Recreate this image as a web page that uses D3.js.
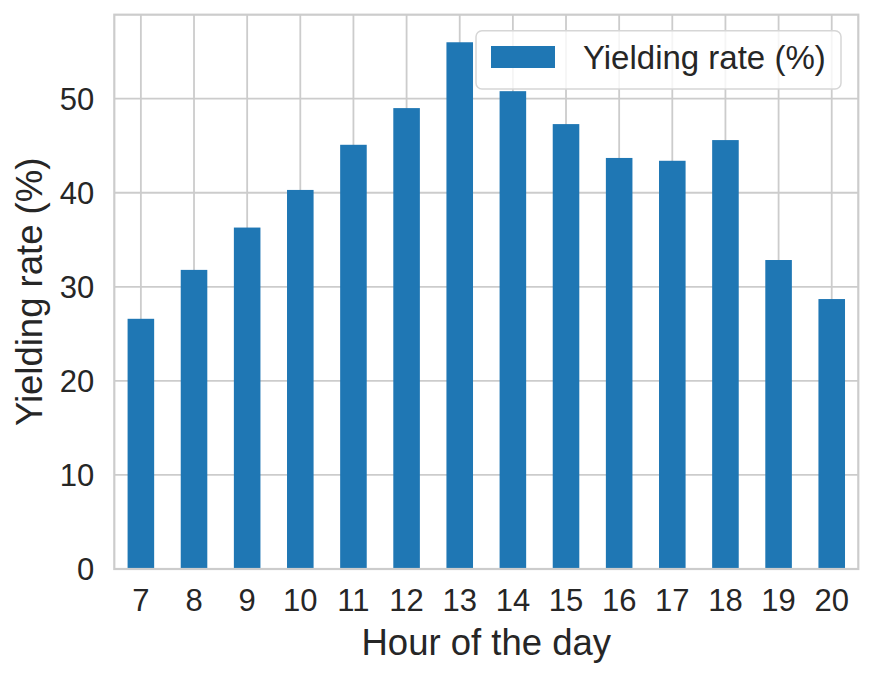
<!DOCTYPE html>
<html>
<head>
<meta charset="utf-8">
<script src="https://cdn.jsdelivr.net/npm/d3@7"></script>
<style>
  html, body { margin: 0; padding: 0; background: #ffffff; }
  svg { display: block; }
  text { font-family: "Liberation Sans", Arial, sans-serif; fill: #262626; }
</style>
</head>
<body>
<svg id="chart" width="873" height="677"></svg>
<script>
const hours = ["7","8","9","10","11","12","13","14","15","16","17","18","19","20"];
const yieldingRate = [26.6, 31.8, 36.3, 40.3, 45.1, 49.0, 56.0, 50.8, 47.3, 43.7, 43.4, 45.6, 32.85, 28.7];
const yTicks = [0, 10, 20, 30, 40, 50];
const seriesName = "Yielding rate (%)";
const xLabel = "Hour of the day";
const yLabel = "Yielding rate (%)";

const svg = d3.select("#chart");
const plotLeft = 114.3, plotRight = 858.3, plotTop = 14.7, plotBottom = 569;
const gridColor = "#cccccc";
const barColor = "#1f77b4";

const x = d3.scaleBand().domain(hours).range([plotLeft, plotRight]).paddingInner(0.5).paddingOuter(0.25);
const y = d3.scaleLinear().domain([0, 58.93]).range([plotBottom, plotTop]);

// gridlines
const grid = svg.append("g");
grid.selectAll("line.h").data(yTicks).enter().append("line")
  .attr("x1", plotLeft).attr("x2", plotRight)
  .attr("y1", d => y(d)).attr("y2", d => y(d))
  .attr("stroke", gridColor).attr("stroke-width", 1.8);
grid.selectAll("line.v").data(hours).enter().append("line")
  .attr("y1", plotTop).attr("y2", plotBottom)
  .attr("x1", d => x(d) + x.bandwidth() / 2).attr("x2", d => x(d) + x.bandwidth() / 2)
  .attr("stroke", gridColor).attr("stroke-width", 1.8);

// bars
svg.append("g").selectAll("rect").data(hours).enter().append("rect")
  .attr("x", d => x(d))
  .attr("width", x.bandwidth())
  .attr("y", (d, i) => y(yieldingRate[i]))
  .attr("height", (d, i) => y(0) - y(yieldingRate[i]))
  .attr("fill", barColor);

// frame
svg.append("rect")
  .attr("x", plotLeft).attr("y", plotTop)
  .attr("width", plotRight - plotLeft).attr("height", plotBottom - plotTop)
  .attr("fill", "none").attr("stroke", gridColor).attr("stroke-width", 2.2);

// x tick labels
const xAxis = d3.axisBottom(x).tickSize(0).tickPadding(0);
const gx = svg.append("g").attr("transform", `translate(0,${plotBottom})`).call(xAxis);
gx.select(".domain").remove();
gx.selectAll("text")
  .attr("y", 42).attr("dy", null)
  .style("font-size", "31px").attr("fill", "#262626");

// y tick labels
const yAxis = d3.axisLeft(y).tickValues(yTicks).tickSize(0).tickPadding(0);
const gy = svg.append("g").attr("transform", `translate(${plotLeft},0)`).call(yAxis);
gy.select(".domain").remove();
gy.selectAll("text")
  .attr("x", -20).attr("dy", "0.35em")
  .style("font-size", "31px").attr("fill", "#262626");

// axis labels
svg.append("text")
  .attr("x", (plotLeft + plotRight) / 2).attr("y", 655)
  .attr("text-anchor", "middle")
  .style("font-size", "36.5px")
  .text(xLabel);
svg.append("text")
  .attr("transform", `translate(42,${(plotTop + plotBottom) / 2}) rotate(-90)`)
  .attr("text-anchor", "middle")
  .style("font-size", "36.5px")
  .text(yLabel);

// legend
const lg = svg.append("g");
lg.append("rect")
  .attr("x", 476).attr("y", 30.7).attr("width", 365).attr("height", 58.3)
  .attr("rx", 6).attr("ry", 6)
  .attr("fill", "#ffffff").attr("fill-opacity", 0.8)
  .attr("stroke", "#d6d6d6").attr("stroke-width", 1.5);
lg.append("rect")
  .attr("x", 491).attr("y", 46).attr("width", 64).attr("height", 22)
  .attr("fill", barColor);
lg.append("text")
  .attr("x", 583).attr("y", 69)
  .style("font-size", "33px")
  .text(seriesName);
</script>
</body>
</html>
